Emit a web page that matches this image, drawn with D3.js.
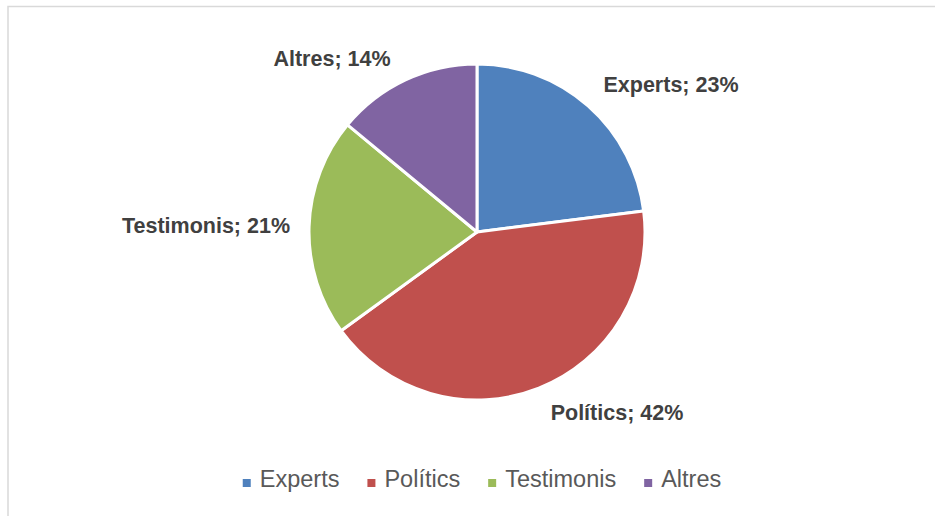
<!DOCTYPE html>
<meta charset="utf-8">
<style>
body { margin: 0; background: #fff; }
svg { font-family: "Liberation Sans", Arial, sans-serif; }
.label { font-weight: bold; font-size: 21.5px; fill: #404040; }
.legend text { font-size: 23.5px; fill: #595959; }
</style>
<svg width="935" height="516"></svg>
<script src="https://d3js.org/d3.v7.min.js"></script>
<script>

var categories = ["Experts", "Polítics", "Testimonis", "Altres"];
var values = [23, 42, 21, 14];
var colors = ["#4F81BD", "#C0504D", "#9BBB59", "#8064A2"];

// where the labels sit, relative to the pie centre (baseline middle)
var labelOffsets = [[194, -140], [140, 188], [-271, 1], [-145, -166]];

var svg = d3.select("svg"),
    cx = 477, cy = 232, radius = 168;

// chart area border
svg.append("rect")
    .attr("x", 8)
    .attr("y", 6.5)
    .attr("width", 940)
    .attr("height", 520)
    .attr("fill", "none")
    .attr("stroke", "#d9d9d9")
    .attr("stroke-width", 1.5);

var data = categories.map(function(c, i) { return { name: c, value: values[i], color: colors[i] }; });

var pie = d3.pie()
    .sort(null)
    .value(function(d) { return d.value; });

var arc = d3.arc()
    .innerRadius(0)
    .outerRadius(radius);

var g = svg.append("g").attr("transform", "translate(" + cx + "," + cy + ")");

g.selectAll("path")
    .data(pie(data))
    .enter()
    .append("path")
        .attr("d", arc)
        .attr("fill", function(d) { return d.data.color; })
        .attr("stroke", "#fff")
        .attr("stroke-width", 3)
        .attr("stroke-linejoin", "round");

g.selectAll("text.label")
    .data(pie(data))
    .enter()
    .append("text")
        .attr("class", "label")
        .attr("text-anchor", "middle")
        .attr("x", function(d, i) { return labelOffsets[i][0]; })
        .attr("y", function(d, i) { return labelOffsets[i][1]; })
        .text(function(d) { return d.data.name + "; " + d.data.value + "%"; });

// legend
var legend = svg.append("g").attr("class", "legend");
var items = legend.selectAll("g")
    .data(data)
    .enter()
    .append("g");

items.append("rect")
    .attr("width", 8)
    .attr("height", 8)
    .attr("y", -8)
    .attr("fill", function(d) { return d.color; });

items.append("text")
    .attr("x", 17)
    .text(function(d) { return d.name; });

var pos = 0, gap = 28;
items.each(function() {
    var w = this.querySelector("text").getComputedTextLength() + 17;
    d3.select(this).attr("data-x", pos);
    pos += w + gap;
});
var total = pos - gap;
var startX = 482 - total / 2;
items.attr("transform", function() {
    return "translate(" + (startX + (+this.getAttribute("data-x"))) + ",487)";
});

</script>
